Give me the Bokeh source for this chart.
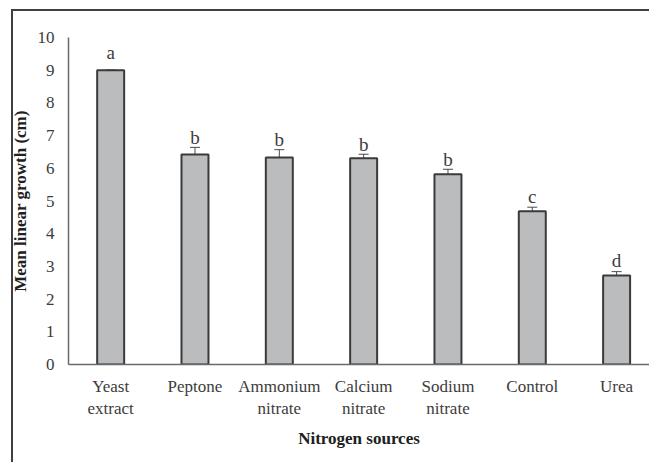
from bokeh.plotting import figure
from bokeh.models import ColumnDataSource, Range1d, FixedTicker, Whisker, TeeHead
from bokeh.embed import file_html
from bokeh.resources import INLINE
from bokeh.core.properties import value

categories = ["Yeast\nextract", "Peptone", "Ammonium\nnitrate", "Calcium\nnitrate",
              "Sodium\nnitrate", "Control", "Urea"]
means = [9.0, 6.42, 6.33, 6.31, 5.82, 4.69, 2.72]
errors = [0.0, 0.22, 0.24, 0.12, 0.15, 0.12, 0.12]
letters = ["a", "b", "b", "b", "b", "c", "d"]
letter_y = [9.53, 6.94, 6.89, 6.74, 6.27, 5.13, 3.19]
y_ticks = [0, 1, 2, 3, 4, 5, 6, 7, 8, 9, 10]

FONT = "Liberation Serif"
TXT = "#3c3c3c"

xs = [i + 0.5 for i in range(len(categories))]
src = ColumnDataSource(dict(
    x=xs, top=means,
    upper=[m + e for m, e in zip(means, errors)],
    lower=[m - e for m, e in zip(means, errors)],
    letter=letters, ly=letter_y,
))

p = figure(width=649, height=462, output_backend="svg", toolbar_location=None,
           x_range=Range1d(0, 6.89), y_range=Range1d(0, 10),
           min_border_left=68, min_border_right=0, min_border_top=37,
           min_border_bottom=98)
p.border_fill_color = None
p.styles = {
    "background-color": "white",
    "background-image": "linear-gradient(#404040, #404040), linear-gradient(#404040, #404040)",
    "background-size": "2px 100%, 100% 2px",
    "background-position": "11px 9px, 11px 9px",
    "background-repeat": "no-repeat",
}
p.outline_line_color = None
p.xgrid.visible = False
p.ygrid.visible = False

p.vbar(x="x", top="top", width=0.32, bottom=0, source=src,
       fill_color="#bbbcbe", line_color="#3a3a3a", line_width=2)

w = Whisker(base="x", upper="upper", lower="lower", source=src,
            line_color="#4a4a4a", line_width=1,
            upper_head=TeeHead(size=10, line_color="#4a4a4a", line_width=1),
            lower_head=TeeHead(size=10, line_color="#4a4a4a", line_width=1))
p.add_layout(w)

p.text(x="x", y="ly", text="letter", source=src, text_align="center",
       text_baseline="alphabetic", text_font=value(FONT),
       text_font_size="19px", text_color=TXT)

# axes
xa = p.xaxis[0]
xa.ticker = FixedTicker(ticks=xs)
xa.major_label_overrides = {x: c for x, c in zip(xs, categories)}
xa.major_tick_line_color = None
xa.major_tick_out = 0
xa.major_tick_in = 0
xa.minor_tick_line_color = None
xa.axis_line_color = "#6a6a6a"
xa.axis_line_width = 1.5
xa.major_label_text_font = FONT
xa.major_label_text_font_size = "17px"
xa.major_label_text_color = TXT
xa.major_label_standoff = 12
xa.axis_label = "Nitrogen sources"
xa.axis_label_text_font = FONT
xa.axis_label_text_font_size = "17px"
xa.axis_label_text_font_style = "bold"
xa.axis_label_text_color = "#202020"
xa.axis_label_standoff = 8

ya = p.yaxis[0]
ya.ticker = FixedTicker(ticks=y_ticks)
ya.major_tick_line_color = None
ya.major_tick_out = 0
ya.major_tick_in = 0
ya.minor_tick_line_color = None
ya.axis_line_color = "#6a6a6a"
ya.axis_line_width = 1.5
ya.major_label_text_font = FONT
ya.major_label_text_font_size = "17px"
ya.major_label_text_color = TXT
ya.major_label_standoff = 14
ya.axis_label = "Mean linear growth (cm)"
ya.axis_label_text_font = FONT
ya.axis_label_text_font_size = "17px"
ya.axis_label_text_font_style = "bold"
ya.axis_label_text_color = "#202020"
ya.axis_label_standoff = 5

open("out.html", "w").write(file_html(p, INLINE))
